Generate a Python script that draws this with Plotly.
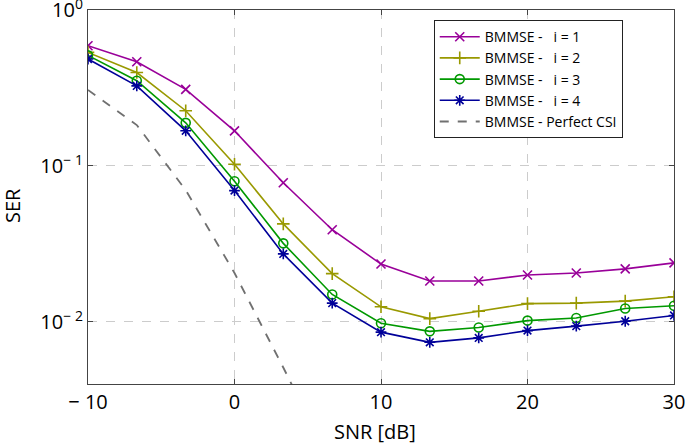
import plotly.graph_objects as go

snr = [-10, -6.67, -3.33, 0, 3.33, 6.67, 10, 13.33, 16.67, 20, 23.33, 26.67, 30]
ser_i1 = [0.59, 0.466, 0.31, 0.168, 0.078, 0.039, 0.0235, 0.0183, 0.0183, 0.020, 0.0206, 0.0219, 0.0239]
ser_i2 = [0.535, 0.397, 0.226, 0.1025, 0.0425, 0.0204, 0.0125, 0.0105, 0.0117, 0.0131, 0.0132, 0.0136, 0.0145]
ser_i3 = [0.512, 0.352, 0.189, 0.0798, 0.0319, 0.0150, 0.0098, 0.0087, 0.0092, 0.0102, 0.0106, 0.0122, 0.0127]
ser_i4 = [0.485, 0.326, 0.168, 0.0695, 0.0273, 0.0132, 0.0086, 0.0074, 0.0079, 0.0088, 0.0094, 0.0101, 0.0110]
snr_csi = [-10, -6.67, -3.33, 0, 3.33, 6.67]
ser_csi = [0.307, 0.183, 0.070, 0.0206, 0.0051, 0.0012]

x_ticks = [-10, 0, 10, 20, 30]
x_ticktext = ["\u2212 10", "0", "10", "20", "30"]
y_ticks = [1, 0.1, 0.01]
y_ticktext = ["10<sup>0</sup>", "10<sup>\u2212 1</sup>", "10<sup>\u2212 2</sup>"]
y_minor = [0.005, 0.006, 0.007, 0.008, 0.009,
           0.02, 0.03, 0.04, 0.05, 0.06, 0.07, 0.08, 0.09,
           0.2, 0.3, 0.4, 0.5, 0.6, 0.7, 0.8, 0.9]

series = [
    ("BMMSE -\u00a0\u00a0\u00a0i = 1", ser_i1, "#990099", "x-thin-open"),
    ("BMMSE -\u00a0\u00a0\u00a0i = 2", ser_i2, "#999900", "cross-thin-open"),
    ("BMMSE -\u00a0\u00a0\u00a0i = 3", ser_i3, "#009900", "circle-open"),
    ("BMMSE -\u00a0\u00a0\u00a0i = 4", ser_i4, "#000099", "asterisk-open"),
]
csi_name = "BMMSE - Perfect CSI"

fig = go.Figure()
for name, vals, col, sym in series:
    fig.add_trace(go.Scatter(
        x=snr, y=vals, name=name, mode="lines+markers",
        line=dict(color=col, width=1.6),
        marker=dict(symbol=sym, size=9, color=col, line=dict(color=col, width=1.6)),
    ))
fig.add_trace(go.Scatter(
    x=snr_csi, y=ser_csi, name=csi_name, mode="lines",
    line=dict(color="#707070", width=1.8, dash="dash"),
))

font = "Open Sans, Noto Sans, sans-serif"
axcol = "#444444"
yrange = [-2.398, 0.0]
fig.update_layout(
    width=685, height=446,
    margin=dict(l=88, r=11, t=10, b=62),
    paper_bgcolor="white", plot_bgcolor="white",
    font=dict(family=font, size=16, color="black"),
    showlegend=True,
    legend=dict(
        x=0.59, y=0.973, xanchor="left", yanchor="top",
        bordercolor="#222222", borderwidth=1, bgcolor="white",
        font=dict(size=14), tracegroupgap=0, itemwidth=40,
    ),
    xaxis=dict(
        range=[-10, 30], automargin=False,
        tickvals=x_ticks, ticktext=x_ticktext, ticklabeloverflow="allow",
        ticks="inside", ticklen=5, tickcolor=axcol,
        showline=True, linecolor=axcol, linewidth=1.2, mirror="allticks",
        showgrid=True, gridcolor="#cccccc", griddash="dash", gridwidth=1,
        zeroline=False,
        tickfont=dict(size=20),
    ),
    yaxis=dict(
        type="log", automargin=False,
        range=yrange,
        tickvals=y_ticks, ticktext=y_ticktext, ticklabeloverflow="allow",
        ticks="inside", ticklen=5, tickcolor=axcol,
        showline=True, linecolor=axcol, linewidth=1.2, mirror="allticks",
        showgrid=True, gridcolor="#cccccc", griddash="dash", gridwidth=1,
        zeroline=False,
        tickfont=dict(size=20),
    ),
    yaxis2=dict(
        type="log", overlaying="y", side="left", automargin=False,
        range=yrange, tickvals=y_minor, showticklabels=False,
        ticks="inside", ticklen=3, tickcolor=axcol,
        showline=True, linecolor=axcol, linewidth=1.2, mirror="allticks",
        showgrid=False, zeroline=False,
    ),
    annotations=[
        dict(text="SNR [dB]", xref="paper", yref="paper", x=(375 - 88) / 586, y=-47 / 374,
             xanchor="center", yanchor="middle", showarrow=False, font=dict(size=20)),
        dict(text="SER", xref="paper", yref="paper", x=-76 / 586, y=(384 - 206) / 374,
             xanchor="center", yanchor="middle", showarrow=False, textangle=-90,
             font=dict(size=20)),
    ],
)

fig.write_html("out.html", config={"displayModeBar": False},
               post_script="document.body.style.margin='0px';")
